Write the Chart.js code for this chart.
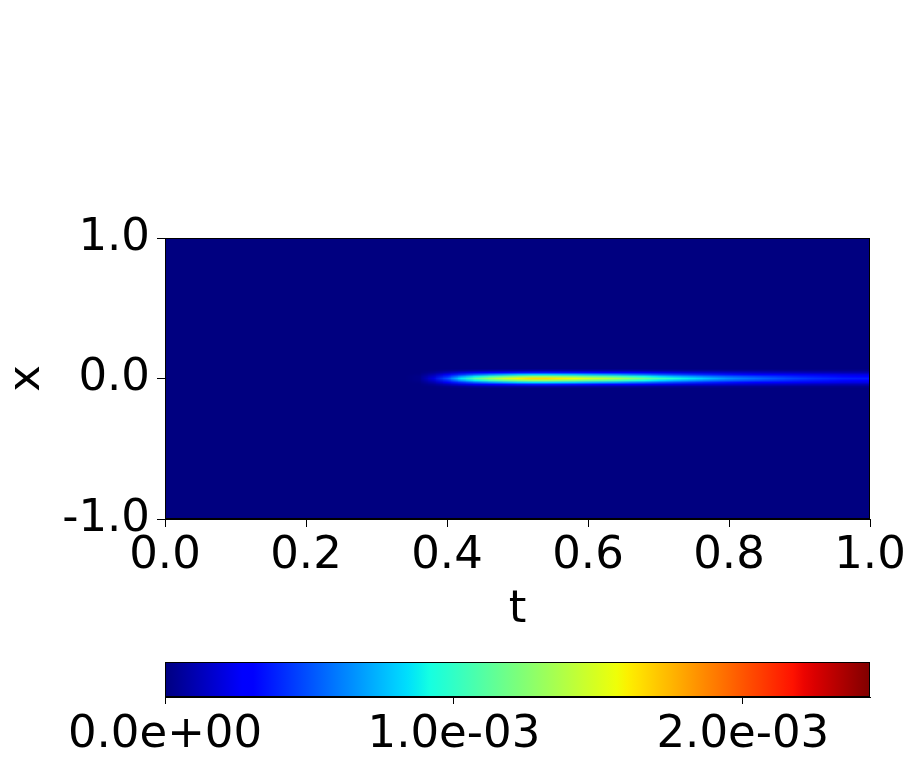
<!DOCTYPE html>
<html>
<head>
<meta charset="utf-8">
<script src="https://cdn.jsdelivr.net/npm/chart.js@4.4.1/dist/chart.umd.min.js"></script>
<style>
  html, body { margin: 0; padding: 0; background: #fff; }
  #wrap { position: relative; width: 913px; height: 761px; }
  canvas { position: absolute; left: 0; }
</style>
</head>
<body>
<div id="wrap">
  <canvas id="field" width="913" height="640" style="top:0"></canvas>
  <canvas id="cbar" width="913" height="121" style="top:640px"></canvas>
</div>
<script>
// axis ticks
const tTicks = [0, 0.2, 0.4, 0.6, 0.8, 1.0];
const xTicks = [-1, 0, 1];
const cbTicks = [0, 1e-3, 2e-3];
const vMax = 2.44e-3;

// grid where the streak lives, everything else is 0
const tCols = [0.34, 0.36, 0.38, 0.40, 0.42, 0.44, 0.46, 0.48, 0.50, 0.52, 0.54, 0.56,
  0.58, 0.60, 0.62, 0.64, 0.66, 0.68, 0.70, 0.72, 0.74, 0.76, 0.78, 0.80, 0.82, 0.84,
  0.86, 0.88, 0.90, 0.92, 0.94, 0.96, 0.98, 1.00];
const xRows = [0.07, 0.056, 0.042, 0.028, 0.014, 0, -0.014, -0.028, -0.042, -0.056, -0.07];

// values in 1e-3, one list per row (the streak is symmetric around x = 0)
const rowMid = [0, 0.02, 0.20, 0.50, 0.85, 1.10, 1.30, 1.45, 1.58, 1.65, 1.65, 1.60, 1.55, 1.48, 1.42, 1.35, 1.25, 1.15, 1.05, 0.95, 0.87, 0.80, 0.72, 0.65, 0.60, 0.56, 0.52, 0.48, 0.45, 0.42, 0.40, 0.38, 0.37, 0.36];
const row014 = [0, 0.02, 0.16, 0.40, 0.68, 0.88, 1.04, 1.16, 1.26, 1.32, 1.32, 1.28, 1.24, 1.18, 1.14, 1.08, 1.00, 0.92, 0.84, 0.76, 0.70, 0.64, 0.58, 0.54, 0.50, 0.47, 0.44, 0.41, 0.38, 0.36, 0.34, 0.32, 0.31, 0.30];
const row028 = [0, 0.01, 0.10, 0.25, 0.42, 0.55, 0.65, 0.72, 0.79, 0.82, 0.82, 0.80, 0.78, 0.74, 0.71, 0.68, 0.62, 0.58, 0.52, 0.48, 0.44, 0.40, 0.37, 0.34, 0.32, 0.30, 0.28, 0.26, 0.25, 0.24, 0.23, 0.22, 0.21, 0.21];
const row042 = [0, 0, 0.04, 0.11, 0.19, 0.24, 0.29, 0.32, 0.35, 0.36, 0.36, 0.35, 0.34, 0.33, 0.31, 0.30, 0.28, 0.25, 0.23, 0.21, 0.19, 0.18, 0.17, 0.16, 0.15, 0.14, 0.13, 0.13, 0.12, 0.11, 0.11, 0.10, 0.10, 0.10];
const row056 = [0, 0, 0.01, 0.03, 0.05, 0.07, 0.08, 0.09, 0.09, 0.10, 0.10, 0.10, 0.09, 0.09, 0.09, 0.08, 0.08, 0.07, 0.06, 0.06, 0.05, 0.05, 0.05, 0.04, 0.04, 0.04, 0.04, 0.03, 0.03, 0.03, 0.03, 0.03, 0.03, 0.03];
const row070 = [0, 0, 0, 0, 0, 0, 0, 0, 0, 0, 0, 0, 0, 0, 0, 0, 0, 0, 0, 0, 0, 0, 0, 0, 0, 0, 0, 0, 0, 0, 0, 0, 0, 0];
const grid = [row070, row056, row042, row028, row014, rowMid, row014, row028, row042, row056, row070];

Chart.defaults.font.family = "'DejaVu Sans', sans-serif";
Chart.defaults.color = "#000";
const bigFont = { size: 45, family: "'DejaVu Sans', sans-serif" };

// matplotlib "jet"
const JET = {
  r: [[0, 0], [0.35, 0], [0.66, 1], [0.89, 1], [1, 0.5]],
  g: [[0, 0], [0.125, 0], [0.375, 1], [0.64, 1], [0.91, 0], [1, 0]],
  b: [[0, 0.5], [0.11, 1], [0.34, 1], [0.65, 0], [1, 0]],
};
function seg(pts, v) {
  for (let i = 1; i < pts.length; i++) {
    if (v <= pts[i][0]) {
      const [x0, y0] = pts[i - 1], [x1, y1] = pts[i];
      return y0 + (y1 - y0) * (v - x0) / (x1 - x0);
    }
  }
  return pts[pts.length - 1][1];
}
function jet(v) {
  v = Math.max(0, Math.min(1, v));
  return [seg(JET.r, v), seg(JET.g, v), seg(JET.b, v)].map(c => Math.round(c * 255));
}
const css = c => `rgb(${c[0]},${c[1]},${c[2]})`;

function sciLabel(v) {
  const [m, e] = v.toExponential(1).split("e");
  const n = parseInt(e, 10);
  return m + "e" + (n < 0 ? "-" : "+") + String(Math.abs(n)).padStart(2, "0");
}

function frame(chart) {
  const { ctx, chartArea: a } = chart;
  ctx.save();
  ctx.strokeStyle = "#000";
  ctx.lineWidth = 1;
  ctx.strokeRect(Math.round(a.left) + 0.5, Math.round(a.top) + 0.5,
    Math.round(a.width) - 1, Math.round(a.height) - 1);
  ctx.restore();
}

const heatPlugin = {
  id: "heat",
  beforeDatasetsDraw(chart) {
    const { ctx, chartArea: a, scales: { x, y } } = chart;
    ctx.save();
    ctx.beginPath();
    ctx.rect(a.left, a.top, a.width, a.height);
    ctx.clip();

    // background = value 0
    ctx.fillStyle = css(jet(0));
    const x0 = x.getPixelForValue(0), x1 = x.getPixelForValue(1);
    const y0 = y.getPixelForValue(1), y1 = y.getPixelForValue(-1);
    ctx.fillRect(x0, y0, x1 - x0, y1 - y0);

    // streak cells, one pixel per cell, then smoothed onto the scales
    const off = document.createElement("canvas");
    off.width = tCols.length;
    off.height = xRows.length;
    const octx = off.getContext("2d");
    const img = octx.createImageData(off.width, off.height);
    grid.forEach((row, j) => {
      row.forEach((val, i) => {
        const c = jet(val * 1e-3 / vMax);
        const k = (j * off.width + i) * 4;
        img.data[k] = c[0]; img.data[k + 1] = c[1]; img.data[k + 2] = c[2]; img.data[k + 3] = 255;
      });
    });
    octx.putImageData(img, 0, 0);

    const dt = tCols[1] - tCols[0];
    const dx = xRows[0] - xRows[1];
    const left = x.getPixelForValue(tCols[0] - dt / 2);
    const right = x.getPixelForValue(tCols[tCols.length - 1] + dt / 2);
    const top = y.getPixelForValue(xRows[0] + dx / 2);
    const bottom = y.getPixelForValue(xRows[xRows.length - 1] - dx / 2);
    ctx.imageSmoothingEnabled = true;
    ctx.drawImage(off, left, top, right - left, bottom - top);
    ctx.restore();
  },
  afterDraw: frame,
};

const cbarPlugin = {
  id: "cbar",
  beforeDatasetsDraw(chart) {
    const { ctx, chartArea: a, scales: { x } } = chart;
    const l = x.getPixelForValue(0), r = x.getPixelForValue(vMax);
    const grad = ctx.createLinearGradient(l, 0, r, 0);
    for (let i = 0; i <= 64; i++) grad.addColorStop(i / 64, css(jet(i / 64)));
    ctx.save();
    ctx.fillStyle = grad;
    ctx.fillRect(l, a.top, r - l, a.bottom - a.top);
    ctx.restore();
  },
  afterDraw: frame,
};

const tickGrid = { drawOnChartArea: false, tickLength: 8, color: "#000", tickColor: "#000" };

new Chart(document.getElementById("field"), {
  type: "scatter",
  data: { datasets: [] },
  options: {
    responsive: false,
    animation: false,
    layout: { padding: { left: 0, top: 238, right: 43, bottom: 0 } },
    plugins: { legend: { display: false }, tooltip: { enabled: false } },
    scales: {
      x: {
        type: "linear", min: 0, max: 1,
        afterBuildTicks: s => { s.ticks = tTicks.map(v => ({ value: v })); },
        afterFit: s => { s.height = 121; },
        ticks: { font: bigFont, color: "#000", padding: 2, maxRotation: 0, autoSkip: false,
          callback: v => v.toFixed(1) },
        grid: tickGrid,
        border: { color: "#000", width: 1 },
        title: { display: true, text: "t", font: bigFont, color: "#000", padding: { top: 0, bottom: 3 } },
      },
      y: {
        type: "linear", min: -1, max: 1,
        afterBuildTicks: s => { s.ticks = xTicks.map(v => ({ value: v })); },
        afterFit: s => { s.width = 165; },
        ticks: { font: bigFont, color: "#000", padding: 7, autoSkip: false,
          callback: v => v.toFixed(1) },
        grid: tickGrid,
        border: { color: "#000", width: 1 },
        title: { display: true, text: "x", font: bigFont, color: "#000", padding: { top: 0, bottom: 0 } },
      },
    },
  },
  plugins: [heatPlugin],
});

new Chart(document.getElementById("cbar"), {
  type: "scatter",
  data: { datasets: [] },
  options: {
    responsive: false,
    animation: false,
    layout: { padding: { left: 165, top: 22, right: 43, bottom: 0 } },
    plugins: { legend: { display: false }, tooltip: { enabled: false } },
    scales: {
      x: {
        type: "linear", min: 0, max: vMax,
        afterBuildTicks: s => { s.ticks = cbTicks.map(v => ({ value: v })); },
        afterFit: s => { s.height = 64; },
        ticks: { font: bigFont, color: "#000", padding: 4, maxRotation: 0, autoSkip: false,
          callback: v => sciLabel(v) },
        grid: { drawOnChartArea: false, tickLength: 7, color: "#000", tickColor: "#000" },
        border: { color: "#000", width: 1 },
      },
      y: { display: false, min: 0, max: 1 },
    },
  },
  plugins: [cbarPlugin],
});
</script>
</body>
</html>
